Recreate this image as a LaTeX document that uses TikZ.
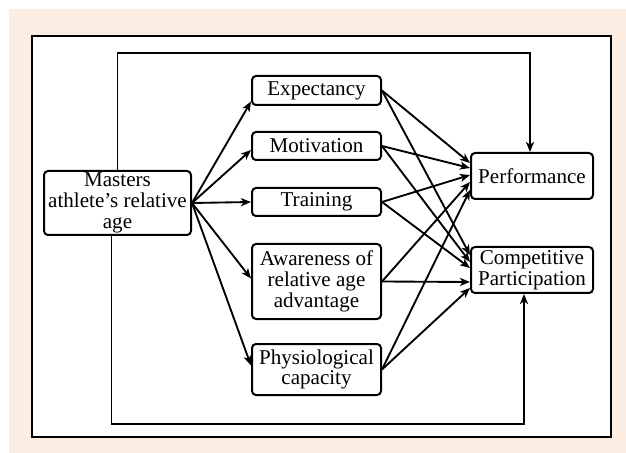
\documentclass[tikz,border=0pt]{standalone}
\usepackage{fontspec}
\setmainfont{Liberation Serif}
\usetikzlibrary{arrows.meta, calc}
\definecolor{mypeach}{RGB}{252,237,227}

\tikzset{
  box/.style={rectangle, draw, rounded corners=3pt, line width=1.5pt, align=center, inner sep=0.5pt, font=\fontsize{15.8}{15.5}\selectfont},
  midbox/.style={box, minimum width=96.75pt},
  outbox/.style={box, minimum width=91.5pt, minimum height=34.5pt},
  link/.style={-{Stealth[length=7.5pt,width=6pt,inset=2pt]}, line width=1.4pt},
}

\begin{document}
\begin{tikzpicture}[x=0.75pt, y=-0.75pt]
% Background and frame
\useasboundingbox (0,0) rectangle (626,453);
\fill[mypeach] (9,9) rectangle (626,453);
\draw[fill=white, line width=1.5pt] (32,36) rectangle (611,437);

% Source
\node[box, minimum width=110.25pt, minimum height=48pt] (master) at (117.5,203) {Masters\\athlete's relative\\age};

% Mediators
\node[midbox, minimum height=21.75pt] (expect) at (316.5,90.5) {Expectancy};
\node[midbox, minimum height=21pt] (motiv) at (316.5,146) {Motivation};
\node[midbox, minimum height=21pt] (train) at (316.5,202) {Training};
\node[midbox, minimum height=56.25pt] (aware) at (316.5,281.5) {Awareness of\\relative age\\advantage};
\node[midbox, minimum height=38.25pt] (physio) at (316.5,369.5) {Physiological\\capacity};

% Outcomes
\node[outbox] (perf) at (532,176) {Performance};
\node[outbox] (compet) at (532,270) {Competitive\\Participation};

% Direct paths
\draw[link] (master.north) -- ++(0,-117) -| ([xshift=-1.5pt]perf.north);
\draw[link] ([xshift=-4.5pt]master.south) -- ++(0,188) -| ([xshift=-6pt]compet.south);

% Masters to mediators
\draw[link] (master.east) -- ($(expect.west)+(0,11)$);
\draw[link] (master.east) -- ($(motiv.west)+(0,4)$);
\draw[link] (master.east) -- (train.west);
\draw[link] (master.east) -- ($(aware.west)+(0,-3)$);
\draw[link] (master.east) -- ($(physio.west)+(0,-4)$);

% Mediators to performance
\draw[link] (expect.east) -- ($(perf.west)+(0,-13)$);
\draw[link] (motiv.east) -- ($(perf.west)+(0,-8)$);
\draw[link] (train.east) -- ($(perf.west)+(0,-1)$);
\draw[link] (aware.east) -- ($(perf.west)+(0,6)$);
\draw[link] (physio.east) -- ($(perf.west)+(0,14)$);

% Mediators to participation
\draw[link] (expect.east) -- ($(compet.west)+(0,-15)$);
\draw[link] (motiv.east) -- ($(compet.west)+(0,-8)$);
\draw[link] (train.east) -- ($(compet.west)+(0,-2)$);
\draw[link] (aware.east) -- ($(compet.west)+(0,12)$);
\draw[link] (physio.east) -- ($(compet.west)+(0,18)$);
\end{tikzpicture}
\end{document}
